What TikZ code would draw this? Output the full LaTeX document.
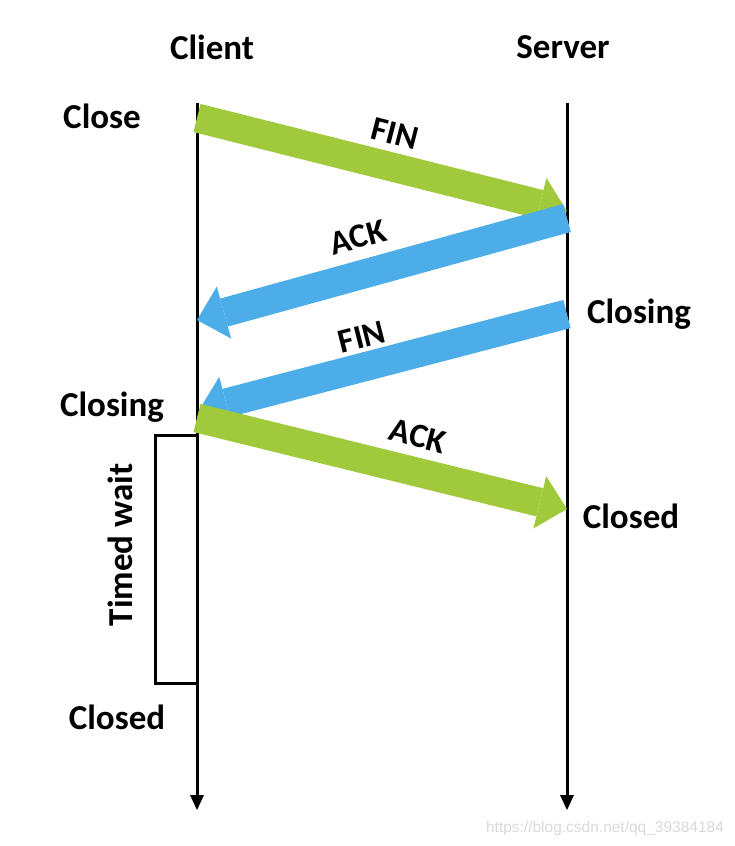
\documentclass[tikz,border=0pt]{standalone}
\usepackage{fontspec}
\setmainfont{Carlito}
\newfontfamily\markfont{Liberation Sans}
\usetikzlibrary{arrows.meta}
\definecolor{fingreen}{RGB}{161,201,60}
\definecolor{ackblue}{RGB}{76,173,232}

\begin{document}
\begin{tikzpicture}[x=1pt, y=-1pt,
    lbl/.style={font=\fontsize{35}{40}\selectfont\bfseries},
    msg/.style={font=\fontsize{34}{38}\selectfont\bfseries},
    lifeline/.style={line width=3pt, -{Triangle[length=15pt,width=14pt,line width=0pt]}},
    fat/.style={line width=29pt, -{Triangle[length=28pt,width=54pt,line width=0pt]}}]
    \useasboundingbox (0,0) rectangle (734,846);

    % Titulos
    \node[lbl] (client) at (212,47) {Client};
    \node[lbl] (server) at (563,47) {Server};

    % Lineas de tiempo
    \coordinate (ctop) at (197,103);
    \coordinate (cbot) at (197,810);
    \coordinate (stop) at (567,103);
    \coordinate (sbot) at (567,810);
    \draw[lifeline] (ctop) -- (cbot);
    \draw[lifeline] (stop) -- (sbot);

    % Espera
    \coordinate (twtop) at (197,435);
    \coordinate (twbot) at (197,683);
    \draw[line width=3pt] (twtop) -- ++(-42,0) |- (twbot);
    \node[lbl, rotate=90] (twait) at (120,545) {Timed wait};

    % Estados
    \node[lbl] (close) at (102,116) {Close};
    \node[lbl] (sclosing) at (639,314) {Closing};
    \node[lbl] (cclosing) at (112,407) {Closing};
    \node[lbl] (sclosed) at (631,516) {Closed};
    \node[lbl] (cclosed) at (117,717) {Closed};

    % Mensajes
    \coordinate (fina) at (197,118);
    \coordinate (finb) at (567,211);
    \coordinate (acka) at (567,218);
    \coordinate (ackb) at (197,320);
    \coordinate (finc) at (567,314);
    \coordinate (find) at (199,410);
    \coordinate (ackc) at (197,418);
    \coordinate (ackd) at (567,509);
    \draw[fat, fingreen] (fina) -- (finb);
    \draw[fat, ackblue] (acka) -- (ackb);
    \draw[fat, ackblue] (finc) -- (find);
    \draw[fat, fingreen] (ackc) -- (ackd);

    \node[msg, rotate=-14.4] (finone) at (395,134) {FIN};
    \node[msg, rotate=15.1] (ackone) at (358,237) {ACK};
    \node[msg, rotate=14.2] (fintwo) at (362,337) {FIN};
    \node[msg, rotate=-14.3] (acktwo) at (418,436) {ACK};

    % Marca
    \node[font=\markfont\fontsize{15.5}{18}\selectfont, text=gray!30] (mark) at (605,828) {https://blog.csdn.net/qq\_39384184};
\end{tikzpicture}
\end{document}
